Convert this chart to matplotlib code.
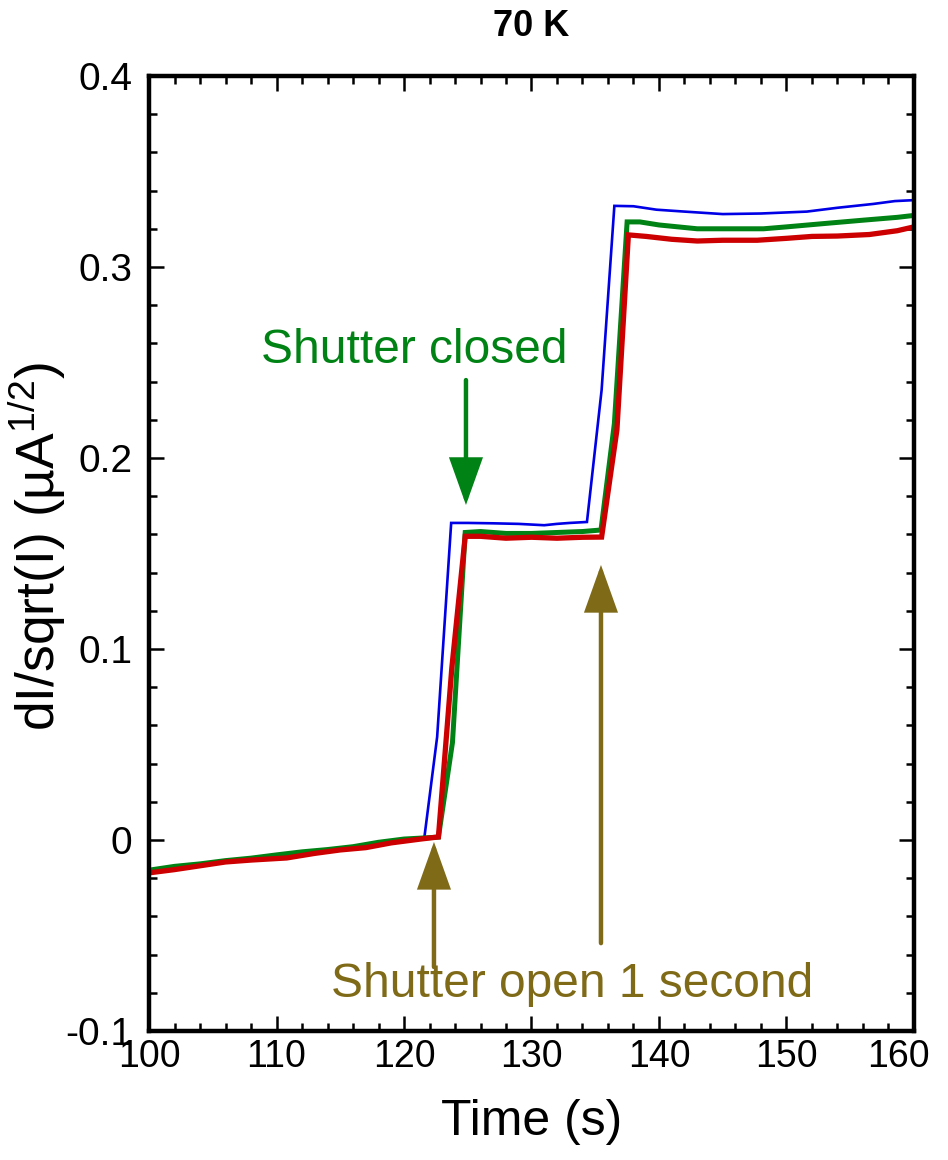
import matplotlib
matplotlib.use("Agg")
import matplotlib.pyplot as plt
from matplotlib.ticker import MultipleLocator, FixedLocator, FixedFormatter
from matplotlib.transforms import ScaledTranslation

# ---- data -------------------------------------------------------------
t_blue = [100, 102, 104, 106, 108, 110, 112, 114, 116, 118, 120, 121.6,
          122.6, 123.7, 125, 127, 129, 131, 132, 133, 134.35,
          135.5, 136.5, 138, 139.8, 142, 145, 148, 151.6, 154, 156.8, 158.5, 160]
v_blue = [-0.0165, -0.014, -0.0128, -0.011, -0.0095, -0.008, -0.0065, -0.0052, -0.004, -0.002, 0.0, 0.0015,
          0.054, 0.166, 0.166, 0.1658, 0.1655, 0.1648, 0.1655, 0.166, 0.1665,
          0.2356, 0.332, 0.3318, 0.330, 0.329, 0.3277, 0.328, 0.329, 0.331, 0.333, 0.3345, 0.335]

t_green = [100, 102, 104, 106, 108, 110, 112, 114, 116, 118, 120, 122.7,
           123.8, 124.8, 126, 128, 130, 132, 134, 135.45,
           136.5, 137.5, 138.5, 140, 143, 148.2, 150, 153.4, 156, 158.7, 160]
v_green = [-0.0158, -0.0138, -0.0125, -0.0108, -0.0095, -0.0078, -0.0062, -0.005, -0.0035, -0.0012, 0.0005, 0.0015,
           0.051, 0.161, 0.1615, 0.1605, 0.1605, 0.161, 0.1615, 0.1623,
           0.218, 0.3236, 0.3236, 0.322, 0.320, 0.320, 0.321, 0.323, 0.3245, 0.326, 0.327]

t_red = [100, 102, 104, 106, 108, 110.8, 113, 115, 117, 119, 121.3, 122.7,
         123.75, 124.8, 126, 128, 130, 132, 134, 135.5,
         136.7, 137.6, 139, 141, 143, 145, 147.7, 150, 152, 154, 156.5, 158.7, 160]
v_red = [-0.0172, -0.0155, -0.0135, -0.0115, -0.0105, -0.0094, -0.007, -0.0052, -0.004, -0.0015, 0.0005, 0.0016,
         0.09, 0.159, 0.159, 0.158, 0.1585, 0.158, 0.1585, 0.1586,
         0.2147, 0.3168, 0.316, 0.3145, 0.3136, 0.314, 0.314, 0.315, 0.316, 0.3162, 0.317, 0.319, 0.321]

x_ticks = [100, 110, 120, 130, 140, 150, 160]
x_tick_labels = ["100", "110", "120", "130", "140", "150", "160"]
y_ticks = [-0.1, 0.0, 0.1, 0.2, 0.3, 0.4]
y_tick_labels = ["-0.1", "0", "0.1", "0.2", "0.3", "0.4"]

title = "70 K"
x_label = "Time (s)"
y_label = r"dI/sqrt(I) (µA$^{1/2}$)"
closed_text = "Shutter closed"
open_text = "Shutter open 1 second"

# ---- style ------------------------------------------------------------
plt.rcParams["font.family"] = ["Liberation Sans", "DejaVu Sans"]
plt.rcParams["mathtext.default"] = "regular"
plt.rcParams["axes.unicode_minus"] = False

BLUE = "#0000e6"
GREEN = "#008214"
RED = "#cc0000"
OLIVE = "#7f6a18"

fig = plt.figure(figsize=(9.48, 11.6), dpi=100)
ax = fig.add_axes([0.1572, 0.1112, 0.8069, 0.8233])

ax.plot(t_blue, v_blue, color=BLUE, lw=1.9, solid_joinstyle="miter")
ax.plot(t_green, v_green, color=GREEN, lw=3.6, solid_joinstyle="miter")
ax.plot(t_red, v_red, color=RED, lw=3.8, solid_joinstyle="miter")

ax.set_xlim(100, 160)
ax.set_ylim(-0.1, 0.4)

ax.xaxis.set_major_locator(FixedLocator(x_ticks))
ax.xaxis.set_major_formatter(FixedFormatter(x_tick_labels))
ax.xaxis.set_minor_locator(MultipleLocator(2))
ax.yaxis.set_major_locator(FixedLocator(y_ticks))
ax.yaxis.set_major_formatter(FixedFormatter(y_tick_labels))
ax.yaxis.set_minor_locator(MultipleLocator(0.02))

ax.tick_params(which="both", direction="in", top=True, right=True, width=1.8, color="black")
ax.tick_params(which="major", length=11)
ax.tick_params(which="minor", length=5.5)
ax.tick_params(axis="x", which="major", labelsize=27, pad=6)
ax.tick_params(axis="y", which="major", labelsize=28, pad=12)

# the last time label sits slightly inside the right edge
last = ax.xaxis.get_major_ticks()[-1].label1
last.set_transform(last.get_transform() + ScaledTranslation(-0.16, 0, fig.dpi_scale_trans))

for sp in ax.spines.values():
    sp.set_linewidth(3.2)

ax.set_title(title, fontsize=26, fontweight="bold", pad=29)
ax.set_xlabel(x_label, fontsize=36)
ax.xaxis.set_label_coords(0.5, -0.071)
ax.set_ylabel(y_label, fontsize=38.5)
ax.yaxis.set_label_coords(-0.106, 0.507)

# ---- annotations ------------------------------------------------------
def arrow(x, y_tail, y_tip, color):
    ax.annotate("", xy=(x, y_tip), xytext=(x, y_tail),
                arrowprops=dict(arrowstyle="-|>,head_length=28,head_width=10",
                                mutation_scale=1, lw=3.2, color=color,
                                shrinkA=0, shrinkB=0, joinstyle="miter",
                                capstyle="round"))

arrow(124.86, 0.2408, 0.1754, GREEN)
arrow(122.35, -0.0665, -0.001, OLIVE)
arrow(135.45, -0.054, 0.144, OLIVE)

ax.text(120.8, 0.2565, closed_text, color=GREEN, fontsize=34.5, ha="center", va="center")
ax.text(133.2, -0.0755, open_text, color=OLIVE, fontsize=34.5, ha="center", va="center")

fig.savefig("out.png", dpi=100)
